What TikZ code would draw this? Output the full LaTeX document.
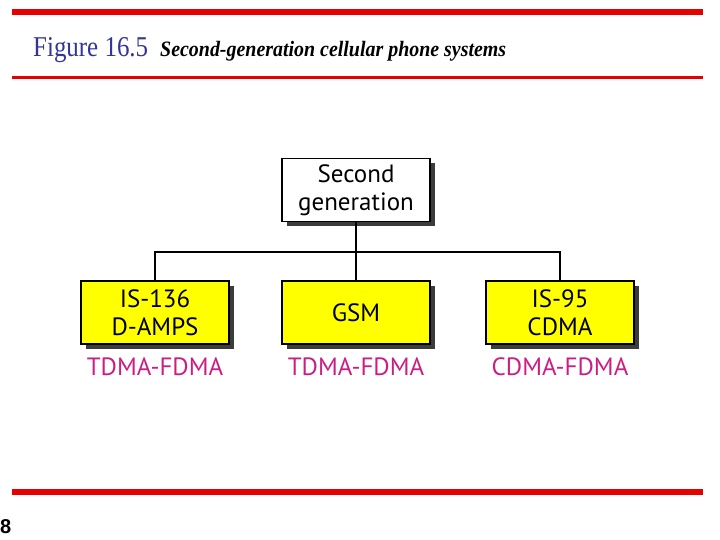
\documentclass[tikz,border=0pt]{standalone}
\usepackage{fontspec}
\setmainfont{Liberation Serif}
\newfontfamily\boxfont{PT Sans}
\newfontfamily\numfont{Liberation Sans}
\definecolor{barred}{RGB}{232,0,0}
\definecolor{titleblue}{RGB}{51,51,153}
\definecolor{boxyellow}{RGB}{255,255,0}
\definecolor{labmag}{RGB}{204,30,130}
\definecolor{shadowgray}{RGB}{60,60,60}
\usetikzlibrary{shadows}
\tikzset{
  bar/.style={draw=none,fill=barred},
  sysbox/.style={draw=black,line width=1.3pt,minimum width=148pt,minimum height=63pt,inner sep=0pt,
    align=center,font=\boxfont\fontsize{25}{28}\selectfont,
    drop shadow={shadow xshift=5pt,shadow yshift=-5pt,fill=shadowgray,opacity=1}},
  ylw/.style={sysbox,fill=boxyellow},
  wht/.style={sysbox,fill=white},
  techlabel/.style={text=labmag,font=\boxfont\fontsize{25}{28}\selectfont,inner sep=0pt},
  conn/.style={draw=black,line width=1.8pt}
}
\begin{document}
\begin{tikzpicture}[x=1pt,y=-1pt]
\useasboundingbox (0,0) rectangle (720,540);
% bars
\fill[bar] (12,9) rectangle (703,15.5);
\fill[bar] (12,76) rectangle (703,79);
\fill[bar] (12,488.5) rectangle (703,495);
% title
\node[anchor=base west,inner sep=0pt,text=titleblue] (fig) at (33,57)
  {\scalebox{1}[1.15]{\resizebox{115pt}{!}{\fontsize{22}{24}\selectfont Figure 16.5}}};
\node[anchor=base west,inner sep=0pt] (cap) at (160,57)
  {\scalebox{1}[1.1]{\resizebox{346pt}{!}{\fontsize{16}{18}\selectfont\bfseries\itshape Second-generation cellular phone systems}}};
% boxes
\node[wht] (top) at (356,190) {Second\\generation};
\node[ylw] (l) at (155,312.5) {IS-136\\D-AMPS};
\node[ylw] (m) at (356,312.5) {GSM};
\node[ylw] (r) at (560,312.5) {IS-95\\CDMA};
% labels
\node[techlabel] (ll) at (155,367) {TDMA-FDMA};
\node[techlabel] (ml) at (356,367) {TDMA-FDMA};
\node[techlabel] (rl) at (560,367) {CDMA-FDMA};
% connectors
\coordinate (j) at (356,252);
\draw[conn] (top.south) -- (j);
\draw[conn] (j) -| (l.north);
\draw[conn] (j) -| (r.north);
\draw[conn] (j) -- (m.north);
% page number
\node[anchor=base west,inner sep=0pt,font=\numfont\bfseries\fontsize{20}{22}\selectfont] (pg) at (0,533) {8};
\end{tikzpicture}
\end{document}
